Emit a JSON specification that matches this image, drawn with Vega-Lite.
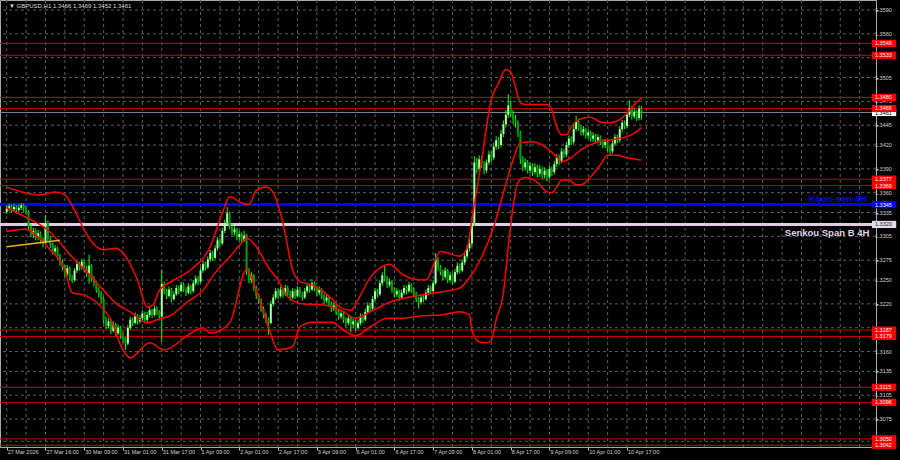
{
"$schema": "https://vega.github.io/schema/vega-lite/v6.json",
"width": 876, "height": 447,
"autosize": "none",
"padding": {"left": 0, "top": 0, "right": 24, "bottom": 13},
"background": "#000000",
"config": {"view": {"stroke": "#a8a8a8", "strokeWidth": 1}, "font": "Liberation Sans"},
"datasets": {
"candles": [
{"i":0,"o":1.3336,"h":1.3344,"l":1.3333,"c":1.3340},{"i":1,"o":1.3340,"h":1.3346,"l":1.3337,"c":1.3343},{"i":2,"o":1.3343,"h":1.3345,"l":1.3335,"c":1.3339},{"i":3,"o":1.3339,"h":1.3346,"l":1.3336,"c":1.3342},{"i":4,"o":1.3342,"h":1.3344,"l":1.3334,"c":1.3338},{"i":5,"o":1.3338,"h":1.3345,"l":1.3335,"c":1.3341},{"i":6,"o":1.3341,"h":1.3347,"l":1.3338,"c":1.3344},{"i":7,"o":1.3344,"h":1.3346,"l":1.3336,"c":1.3340},{"i":8,"o":1.3340,"h":1.3343,"l":1.3332,"c":1.3336},{"i":9,"o":1.3336,"h":1.3338,"l":1.3312,"c":1.3318},
{"i":10,"o":1.3318,"h":1.3321,"l":1.3304,"c":1.3308},{"i":11,"o":1.3308,"h":1.3316,"l":1.3303,"c":1.3312},{"i":12,"o":1.3312,"h":1.3315,"l":1.3300,"c":1.3304},{"i":13,"o":1.3304,"h":1.3313,"l":1.3300,"c":1.3309},{"i":14,"o":1.3309,"h":1.3311,"l":1.3296,"c":1.3300},{"i":15,"o":1.3300,"h":1.3304,"l":1.3291,"c":1.3296},{"i":16,"o":1.3296,"h":1.3332,"l":1.3294,"c":1.3322},{"i":17,"o":1.3322,"h":1.3325,"l":1.3298,"c":1.3302},{"i":18,"o":1.3302,"h":1.3306,"l":1.3290,"c":1.3294},{"i":19,"o":1.3294,"h":1.3297,"l":1.3282,"c":1.3286},
{"i":20,"o":1.3286,"h":1.3294,"l":1.3283,"c":1.3290},{"i":21,"o":1.3290,"h":1.3292,"l":1.3276,"c":1.3280},{"i":22,"o":1.3280,"h":1.3283,"l":1.3268,"c":1.3272},{"i":23,"o":1.3272,"h":1.3276,"l":1.3262,"c":1.3266},{"i":24,"o":1.3266,"h":1.3269,"l":1.3254,"c":1.3258},{"i":25,"o":1.3258,"h":1.3269,"l":1.3255,"c":1.3265},{"i":26,"o":1.3265,"h":1.3267,"l":1.3250,"c":1.3254},{"i":27,"o":1.3254,"h":1.3257,"l":1.3246,"c":1.3250},{"i":28,"o":1.3250,"h":1.3265,"l":1.3248,"c":1.3262},{"i":29,"o":1.3262,"h":1.3274,"l":1.3259,"c":1.3270},
{"i":30,"o":1.3270,"h":1.3273,"l":1.3262,"c":1.3266},{"i":31,"o":1.3266,"h":1.3277,"l":1.3263,"c":1.3273},{"i":32,"o":1.3273,"h":1.3275,"l":1.3260,"c":1.3264},{"i":33,"o":1.3264,"h":1.3268,"l":1.3254,"c":1.3258},{"i":34,"o":1.3258,"h":1.3282,"l":1.3245,"c":1.3268},{"i":35,"o":1.3268,"h":1.3270,"l":1.3248,"c":1.3252},{"i":36,"o":1.3252,"h":1.3255,"l":1.3242,"c":1.3246},{"i":37,"o":1.3246,"h":1.3249,"l":1.3234,"c":1.3238},{"i":38,"o":1.3238,"h":1.3241,"l":1.3228,"c":1.3232},{"i":39,"o":1.3232,"h":1.3236,"l":1.3221,"c":1.3226},
{"i":40,"o":1.3226,"h":1.3229,"l":1.3195,"c":1.3200},{"i":41,"o":1.3200,"h":1.3204,"l":1.3188,"c":1.3192},{"i":42,"o":1.3192,"h":1.3202,"l":1.3189,"c":1.3198},{"i":43,"o":1.3198,"h":1.3200,"l":1.3182,"c":1.3186},{"i":44,"o":1.3186,"h":1.3198,"l":1.3184,"c":1.3194},{"i":45,"o":1.3194,"h":1.3196,"l":1.3180,"c":1.3183},{"i":46,"o":1.3183,"h":1.3194,"l":1.3181,"c":1.3190},{"i":47,"o":1.3190,"h":1.3192,"l":1.3176,"c":1.3180},{"i":48,"o":1.3180,"h":1.3184,"l":1.3171,"c":1.3176},{"i":49,"o":1.3176,"h":1.3178,"l":1.3162,"c":1.3170},
{"i":50,"o":1.3170,"h":1.3193,"l":1.3168,"c":1.3190},{"i":51,"o":1.3190,"h":1.3204,"l":1.3187,"c":1.3200},{"i":52,"o":1.3200,"h":1.3203,"l":1.3192,"c":1.3196},{"i":53,"o":1.3196,"h":1.3209,"l":1.3194,"c":1.3205},{"i":54,"o":1.3205,"h":1.3207,"l":1.3194,"c":1.3198},{"i":55,"o":1.3198,"h":1.3206,"l":1.3195,"c":1.3202},{"i":56,"o":1.3202,"h":1.3212,"l":1.3199,"c":1.3208},{"i":57,"o":1.3208,"h":1.3210,"l":1.3196,"c":1.3200},{"i":58,"o":1.3200,"h":1.3210,"l":1.3197,"c":1.3206},{"i":59,"o":1.3206,"h":1.3216,"l":1.3203,"c":1.3212},
{"i":60,"o":1.3212,"h":1.3214,"l":1.3202,"c":1.3206},{"i":61,"o":1.3206,"h":1.3218,"l":1.3204,"c":1.3214},{"i":62,"o":1.3214,"h":1.3217,"l":1.3206,"c":1.3210},{"i":63,"o":1.3210,"h":1.3212,"l":1.3199,"c":1.3204},{"i":64,"o":1.3204,"h":1.3263,"l":1.3172,"c":1.3245},{"i":65,"o":1.3245,"h":1.3248,"l":1.3232,"c":1.3236},{"i":66,"o":1.3236,"h":1.3239,"l":1.3226,"c":1.3230},{"i":67,"o":1.3230,"h":1.3242,"l":1.3228,"c":1.3238},{"i":68,"o":1.3238,"h":1.3240,"l":1.3222,"c":1.3226},{"i":69,"o":1.3226,"h":1.3236,"l":1.3224,"c":1.3232},
{"i":70,"o":1.3232,"h":1.3244,"l":1.3230,"c":1.3240},{"i":71,"o":1.3240,"h":1.3243,"l":1.3232,"c":1.3236},{"i":72,"o":1.3236,"h":1.3248,"l":1.3234,"c":1.3244},{"i":73,"o":1.3244,"h":1.3247,"l":1.3235,"c":1.3238},{"i":74,"o":1.3238,"h":1.3241,"l":1.3230,"c":1.3234},{"i":75,"o":1.3234,"h":1.3246,"l":1.3232,"c":1.3242},{"i":76,"o":1.3242,"h":1.3244,"l":1.3232,"c":1.3236},{"i":77,"o":1.3236,"h":1.3250,"l":1.3234,"c":1.3246},{"i":78,"o":1.3246,"h":1.3256,"l":1.3243,"c":1.3252},{"i":79,"o":1.3252,"h":1.3255,"l":1.3244,"c":1.3248},
{"i":80,"o":1.3248,"h":1.3266,"l":1.3246,"c":1.3262},{"i":81,"o":1.3262,"h":1.3274,"l":1.3259,"c":1.3270},{"i":82,"o":1.3270,"h":1.3273,"l":1.3262,"c":1.3266},{"i":83,"o":1.3266,"h":1.3280,"l":1.3264,"c":1.3276},{"i":84,"o":1.3276,"h":1.3288,"l":1.3273,"c":1.3284},{"i":85,"o":1.3284,"h":1.3287,"l":1.3274,"c":1.3278},{"i":86,"o":1.3278,"h":1.3294,"l":1.3276,"c":1.3290},{"i":87,"o":1.3290,"h":1.3304,"l":1.3287,"c":1.3300},{"i":88,"o":1.3300,"h":1.3303,"l":1.3292,"c":1.3296},{"i":89,"o":1.3296,"h":1.3316,"l":1.3294,"c":1.3312},
{"i":90,"o":1.3312,"h":1.3326,"l":1.3309,"c":1.3322},{"i":91,"o":1.3322,"h":1.3342,"l":1.3320,"c":1.3334},{"i":92,"o":1.3334,"h":1.3336,"l":1.3314,"c":1.3318},{"i":93,"o":1.3318,"h":1.3321,"l":1.3306,"c":1.3310},{"i":94,"o":1.3310,"h":1.3318,"l":1.3306,"c":1.3314},{"i":95,"o":1.3314,"h":1.3316,"l":1.3300,"c":1.3304},{"i":96,"o":1.3304,"h":1.3312,"l":1.3300,"c":1.3308},{"i":97,"o":1.3308,"h":1.3310,"l":1.3297,"c":1.3300},{"i":98,"o":1.3300,"h":1.3312,"l":1.3298,"c":1.3306},{"i":99,"o":1.3306,"h":1.3308,"l":1.3256,"c":1.3262},
{"i":100,"o":1.3262,"h":1.3265,"l":1.3246,"c":1.3250},{"i":101,"o":1.3250,"h":1.3260,"l":1.3246,"c":1.3256},{"i":102,"o":1.3256,"h":1.3258,"l":1.3236,"c":1.3240},{"i":103,"o":1.3240,"h":1.3243,"l":1.3226,"c":1.3230},{"i":104,"o":1.3230,"h":1.3233,"l":1.3220,"c":1.3224},{"i":105,"o":1.3224,"h":1.3227,"l":1.3210,"c":1.3214},{"i":106,"o":1.3214,"h":1.3217,"l":1.3202,"c":1.3206},{"i":107,"o":1.3206,"h":1.3209,"l":1.3196,"c":1.3200},{"i":108,"o":1.3200,"h":1.3203,"l":1.3181,"c":1.3196},{"i":109,"o":1.3196,"h":1.3224,"l":1.3194,"c":1.3220},
{"i":110,"o":1.3220,"h":1.3232,"l":1.3217,"c":1.3228},{"i":111,"o":1.3228,"h":1.3240,"l":1.3225,"c":1.3236},{"i":112,"o":1.3236,"h":1.3239,"l":1.3226,"c":1.3230},{"i":113,"o":1.3230,"h":1.3242,"l":1.3228,"c":1.3238},{"i":114,"o":1.3238,"h":1.3241,"l":1.3228,"c":1.3232},{"i":115,"o":1.3232,"h":1.3244,"l":1.3230,"c":1.3240},{"i":116,"o":1.3240,"h":1.3243,"l":1.3230,"c":1.3234},{"i":117,"o":1.3234,"h":1.3237,"l":1.3224,"c":1.3228},{"i":118,"o":1.3228,"h":1.3240,"l":1.3226,"c":1.3236},{"i":119,"o":1.3236,"h":1.3239,"l":1.3226,"c":1.3230},
{"i":120,"o":1.3230,"h":1.3242,"l":1.3228,"c":1.3238},{"i":121,"o":1.3238,"h":1.3241,"l":1.3228,"c":1.3232},{"i":122,"o":1.3232,"h":1.3235,"l":1.3224,"c":1.3228},{"i":123,"o":1.3228,"h":1.3240,"l":1.3226,"c":1.3236},{"i":124,"o":1.3236,"h":1.3246,"l":1.3233,"c":1.3242},{"i":125,"o":1.3242,"h":1.3245,"l":1.3234,"c":1.3238},{"i":126,"o":1.3238,"h":1.3251,"l":1.3236,"c":1.3246},{"i":127,"o":1.3246,"h":1.3248,"l":1.3236,"c":1.3240},{"i":128,"o":1.3240,"h":1.3243,"l":1.3230,"c":1.3234},{"i":129,"o":1.3234,"h":1.3242,"l":1.3231,"c":1.3238},
{"i":130,"o":1.3238,"h":1.3240,"l":1.3226,"c":1.3230},{"i":131,"o":1.3230,"h":1.3233,"l":1.3220,"c":1.3224},{"i":132,"o":1.3224,"h":1.3232,"l":1.3221,"c":1.3228},{"i":133,"o":1.3228,"h":1.3230,"l":1.3216,"c":1.3220},{"i":134,"o":1.3220,"h":1.3223,"l":1.3210,"c":1.3214},{"i":135,"o":1.3214,"h":1.3222,"l":1.3211,"c":1.3218},{"i":136,"o":1.3218,"h":1.3220,"l":1.3206,"c":1.3210},{"i":137,"o":1.3210,"h":1.3213,"l":1.3200,"c":1.3204},{"i":138,"o":1.3204,"h":1.3212,"l":1.3201,"c":1.3208},{"i":139,"o":1.3208,"h":1.3210,"l":1.3196,"c":1.3200},
{"i":140,"o":1.3200,"h":1.3203,"l":1.3191,"c":1.3196},{"i":141,"o":1.3196,"h":1.3206,"l":1.3193,"c":1.3202},{"i":142,"o":1.3202,"h":1.3204,"l":1.3184,"c":1.3194},{"i":143,"o":1.3194,"h":1.3202,"l":1.3190,"c":1.3198},{"i":144,"o":1.3198,"h":1.3200,"l":1.3186,"c":1.3190},{"i":145,"o":1.3190,"h":1.3200,"l":1.3188,"c":1.3196},{"i":146,"o":1.3196,"h":1.3208,"l":1.3193,"c":1.3204},{"i":147,"o":1.3204,"h":1.3207,"l":1.3196,"c":1.3200},{"i":148,"o":1.3200,"h":1.3214,"l":1.3198,"c":1.3210},{"i":149,"o":1.3210,"h":1.3222,"l":1.3207,"c":1.3218},
{"i":150,"o":1.3218,"h":1.3221,"l":1.3210,"c":1.3214},{"i":151,"o":1.3214,"h":1.3230,"l":1.3212,"c":1.3226},{"i":152,"o":1.3226,"h":1.3240,"l":1.3223,"c":1.3236},{"i":153,"o":1.3236,"h":1.3239,"l":1.3228,"c":1.3232},{"i":154,"o":1.3232,"h":1.3250,"l":1.3230,"c":1.3246},{"i":155,"o":1.3246,"h":1.3260,"l":1.3243,"c":1.3256},{"i":156,"o":1.3256,"h":1.3268,"l":1.3248,"c":1.3252},{"i":157,"o":1.3252,"h":1.3255,"l":1.3240,"c":1.3244},{"i":158,"o":1.3244,"h":1.3252,"l":1.3241,"c":1.3248},{"i":159,"o":1.3248,"h":1.3250,"l":1.3234,"c":1.3238},
{"i":160,"o":1.3238,"h":1.3241,"l":1.3228,"c":1.3232},{"i":161,"o":1.3232,"h":1.3240,"l":1.3229,"c":1.3236},{"i":162,"o":1.3236,"h":1.3238,"l":1.3224,"c":1.3228},{"i":163,"o":1.3228,"h":1.3238,"l":1.3226,"c":1.3234},{"i":164,"o":1.3234,"h":1.3244,"l":1.3231,"c":1.3240},{"i":165,"o":1.3240,"h":1.3243,"l":1.3232,"c":1.3236},{"i":166,"o":1.3236,"h":1.3248,"l":1.3234,"c":1.3244},{"i":167,"o":1.3244,"h":1.3246,"l":1.3234,"c":1.3238},{"i":168,"o":1.3238,"h":1.3241,"l":1.3228,"c":1.3232},{"i":169,"o":1.3232,"h":1.3235,"l":1.3222,"c":1.3226},
{"i":170,"o":1.3226,"h":1.3229,"l":1.3214,"c":1.3222},{"i":171,"o":1.3222,"h":1.3232,"l":1.3219,"c":1.3228},{"i":172,"o":1.3228,"h":1.3231,"l":1.3222,"c":1.3226},{"i":173,"o":1.3226,"h":1.3238,"l":1.3224,"c":1.3234},{"i":174,"o":1.3234,"h":1.3244,"l":1.3231,"c":1.3240},{"i":175,"o":1.3240,"h":1.3243,"l":1.3232,"c":1.3236},{"i":176,"o":1.3236,"h":1.3250,"l":1.3234,"c":1.3246},{"i":177,"o":1.3246,"h":1.3284,"l":1.3244,"c":1.3276},{"i":178,"o":1.3276,"h":1.3279,"l":1.3262,"c":1.3266},{"i":179,"o":1.3266,"h":1.3269,"l":1.3256,"c":1.3260},
{"i":180,"o":1.3260,"h":1.3263,"l":1.3250,"c":1.3254},{"i":181,"o":1.3254,"h":1.3266,"l":1.3251,"c":1.3262},{"i":182,"o":1.3262,"h":1.3264,"l":1.3246,"c":1.3250},{"i":183,"o":1.3250,"h":1.3260,"l":1.3247,"c":1.3256},{"i":184,"o":1.3256,"h":1.3258,"l":1.3244,"c":1.3248},{"i":185,"o":1.3248,"h":1.3264,"l":1.3246,"c":1.3260},{"i":186,"o":1.3260,"h":1.3272,"l":1.3257,"c":1.3268},{"i":187,"o":1.3268,"h":1.3271,"l":1.3258,"c":1.3262},{"i":188,"o":1.3262,"h":1.3276,"l":1.3260,"c":1.3272},{"i":189,"o":1.3272,"h":1.3284,"l":1.3269,"c":1.3280},
{"i":190,"o":1.3280,"h":1.3294,"l":1.3277,"c":1.3290},{"i":191,"o":1.3290,"h":1.3302,"l":1.3286,"c":1.3296},{"i":192,"o":1.3296,"h":1.3326,"l":1.3292,"c":1.3322},{"i":193,"o":1.3322,"h":1.3406,"l":1.3318,"c":1.3398},{"i":194,"o":1.3398,"h":1.3404,"l":1.3384,"c":1.3390},{"i":195,"o":1.3390,"h":1.3407,"l":1.3386,"c":1.3402},{"i":196,"o":1.3402,"h":1.3406,"l":1.3391,"c":1.3396},{"i":197,"o":1.3396,"h":1.3400,"l":1.3383,"c":1.3388},{"i":198,"o":1.3388,"h":1.3402,"l":1.3385,"c":1.3398},{"i":199,"o":1.3398,"h":1.3413,"l":1.3395,"c":1.3408},
{"i":200,"o":1.3408,"h":1.3412,"l":1.3399,"c":1.3404},{"i":201,"o":1.3404,"h":1.3423,"l":1.3401,"c":1.3418},{"i":202,"o":1.3418,"h":1.3431,"l":1.3414,"c":1.3426},{"i":203,"o":1.3426,"h":1.3430,"l":1.3415,"c":1.3420},{"i":204,"o":1.3420,"h":1.3439,"l":1.3417,"c":1.3434},{"i":205,"o":1.3434,"h":1.3451,"l":1.3430,"c":1.3446},{"i":206,"o":1.3446,"h":1.3464,"l":1.3442,"c":1.3458},{"i":207,"o":1.3458,"h":1.3484,"l":1.3454,"c":1.3470},{"i":208,"o":1.3470,"h":1.3476,"l":1.3455,"c":1.3460},{"i":209,"o":1.3460,"h":1.3464,"l":1.3446,"c":1.3452},
{"i":210,"o":1.3452,"h":1.3458,"l":1.3442,"c":1.3448},{"i":211,"o":1.3448,"h":1.3451,"l":1.3430,"c":1.3436},{"i":212,"o":1.3436,"h":1.3438,"l":1.3396,"c":1.3402},{"i":213,"o":1.3402,"h":1.3406,"l":1.3387,"c":1.3392},{"i":214,"o":1.3392,"h":1.3403,"l":1.3388,"c":1.3398},{"i":215,"o":1.3398,"h":1.3401,"l":1.3384,"c":1.3388},{"i":216,"o":1.3388,"h":1.3398,"l":1.3384,"c":1.3394},{"i":217,"o":1.3394,"h":1.3397,"l":1.3381,"c":1.3386},{"i":218,"o":1.3386,"h":1.3397,"l":1.3383,"c":1.3392},{"i":219,"o":1.3392,"h":1.3395,"l":1.3379,"c":1.3384},
{"i":220,"o":1.3384,"h":1.3395,"l":1.3380,"c":1.3390},{"i":221,"o":1.3390,"h":1.3393,"l":1.3377,"c":1.3382},{"i":222,"o":1.3382,"h":1.3392,"l":1.3378,"c":1.3388},{"i":223,"o":1.3388,"h":1.3390,"l":1.3374,"c":1.3380},{"i":224,"o":1.3380,"h":1.3394,"l":1.3377,"c":1.3390},{"i":225,"o":1.3390,"h":1.3393,"l":1.3381,"c":1.3386},{"i":226,"o":1.3386,"h":1.3400,"l":1.3383,"c":1.3396},{"i":227,"o":1.3396,"h":1.3409,"l":1.3392,"c":1.3404},{"i":228,"o":1.3404,"h":1.3408,"l":1.3395,"c":1.3400},{"i":229,"o":1.3400,"h":1.3416,"l":1.3397,"c":1.3412},
{"i":230,"o":1.3412,"h":1.3415,"l":1.3404,"c":1.3408},{"i":231,"o":1.3408,"h":1.3424,"l":1.3405,"c":1.3420},{"i":232,"o":1.3420,"h":1.3432,"l":1.3416,"c":1.3428},{"i":233,"o":1.3428,"h":1.3431,"l":1.3420,"c":1.3424},{"i":234,"o":1.3424,"h":1.3445,"l":1.3421,"c":1.3440},{"i":235,"o":1.3440,"h":1.3457,"l":1.3437,"c":1.3450},{"i":236,"o":1.3450,"h":1.3453,"l":1.3438,"c":1.3442},{"i":237,"o":1.3442,"h":1.3445,"l":1.3432,"c":1.3436},{"i":238,"o":1.3436,"h":1.3444,"l":1.3432,"c":1.3440},{"i":239,"o":1.3440,"h":1.3442,"l":1.3428,"c":1.3432},
{"i":240,"o":1.3432,"h":1.3440,"l":1.3428,"c":1.3436},{"i":241,"o":1.3436,"h":1.3438,"l":1.3424,"c":1.3428},{"i":242,"o":1.3428,"h":1.3436,"l":1.3424,"c":1.3432},{"i":243,"o":1.3432,"h":1.3434,"l":1.3422,"c":1.3426},{"i":244,"o":1.3426,"h":1.3434,"l":1.3422,"c":1.3430},{"i":245,"o":1.3430,"h":1.3432,"l":1.3420,"c":1.3424},{"i":246,"o":1.3424,"h":1.3427,"l":1.3416,"c":1.3420},{"i":247,"o":1.3420,"h":1.3428,"l":1.3416,"c":1.3424},{"i":248,"o":1.3424,"h":1.3426,"l":1.3412,"c":1.3416},{"i":249,"o":1.3416,"h":1.3419,"l":1.3406,"c":1.3412},
{"i":250,"o":1.3412,"h":1.3426,"l":1.3409,"c":1.3422},{"i":251,"o":1.3422,"h":1.3434,"l":1.3419,"c":1.3430},{"i":252,"o":1.3430,"h":1.3433,"l":1.3422,"c":1.3426},{"i":253,"o":1.3426,"h":1.3444,"l":1.3423,"c":1.3440},{"i":254,"o":1.3440,"h":1.3452,"l":1.3436,"c":1.3448},{"i":255,"o":1.3448,"h":1.3451,"l":1.3440,"c":1.3444},{"i":256,"o":1.3444,"h":1.3462,"l":1.3441,"c":1.3458},{"i":257,"o":1.3458,"h":1.3476,"l":1.3455,"c":1.3466},{"i":258,"o":1.3466,"h":1.3469,"l":1.3452,"c":1.3456},{"i":259,"o":1.3456,"h":1.3467,"l":1.3453,"c":1.3462},
{"i":260,"o":1.3462,"h":1.3464,"l":1.3450,"c":1.3454},{"i":261,"o":1.3454,"h":1.3470,"l":1.3451,"c":1.3466},{"i":262,"o":1.3466,"h":1.3469,"l":1.3452,"c":1.3461}
],
"bands": [
{"b":"upper","i":0,"p":1.3367},{"b":"upper","i":7.5,"p":1.3360},{"b":"upper","i":13,"p":1.3357},{"b":"upper","i":20,"p":1.3361},{"b":"upper","i":24,"p":1.3357},{"b":"upper","i":28,"p":1.3338},{"b":"upper","i":32,"p":1.3313},{"b":"upper","i":37,"p":1.3292},{"b":"upper","i":40,"p":1.3288},{"b":"upper","i":45,"p":1.3290},{"b":"upper","i":48,"p":1.3284},{"b":"upper","i":54,"p":1.3250},{"b":"upper","i":58,"p":1.3216},{"b":"upper","i":60.5,"p":1.3219},{"b":"upper","i":63,"p":1.3237},{"b":"upper","i":69,"p":1.3250},{"b":"upper","i":76,"p":1.3263},{"b":"upper","i":84,"p":1.3292},{"b":"upper","i":89,"p":1.3334},{"b":"upper","i":92,"p":1.3355},{"b":"upper","i":97,"p":1.3347},{"b":"upper","i":100,"p":1.3345},{"b":"upper","i":103,"p":1.3363},{"b":"upper","i":107,"p":1.3367},{"b":"upper","i":110,"p":1.3360},{"b":"upper","i":114,"p":1.3322},{"b":"upper","i":118,"p":1.3263},{"b":"upper","i":121,"p":1.3248},{"b":"upper","i":126,"p":1.3244},{"b":"upper","i":130,"p":1.3237},{"b":"upper","i":134,"p":1.3227},{"b":"upper","i":138,"p":1.3215},{"b":"upper","i":142,"p":1.3212},{"b":"upper","i":146,"p":1.3231},{"b":"upper","i":150,"p":1.3253},{"b":"upper","i":154,"p":1.3265},{"b":"upper","i":158,"p":1.3270},{"b":"upper","i":163,"p":1.3258},{"b":"upper","i":167,"p":1.3252},{"b":"upper","i":173,"p":1.3250},{"b":"upper","i":179,"p":1.3286},{"b":"upper","i":187,"p":1.3280},{"b":"upper","i":190,"p":1.3290},{"b":"upper","i":192,"p":1.3326},{"b":"upper","i":196,"p":1.3401},{"b":"upper","i":200,"p":1.3477},{"b":"upper","i":203,"p":1.3498},{"b":"upper","i":206,"p":1.3515},{"b":"upper","i":208,"p":1.3512},{"b":"upper","i":210,"p":1.3493},{"b":"upper","i":212,"p":1.3473},{"b":"upper","i":214,"p":1.3471},{"b":"upper","i":223,"p":1.3471},{"b":"upper","i":225,"p":1.3464},{"b":"upper","i":227,"p":1.3443},{"b":"upper","i":229,"p":1.3433},{"b":"upper","i":231,"p":1.3433},{"b":"upper","i":233,"p":1.3443},{"b":"upper","i":236,"p":1.3452},{"b":"upper","i":241,"p":1.3455},{"b":"upper","i":245,"p":1.3449},{"b":"upper","i":249,"p":1.3448},{"b":"upper","i":253,"p":1.3452},{"b":"upper","i":256,"p":1.3460},{"b":"upper","i":260,"p":1.3474},{"b":"upper","i":262,"p":1.3479},
{"b":"middle","i":0,"p":1.3341},{"b":"middle","i":8,"p":1.3329},{"b":"middle","i":17,"p":1.3313},{"b":"middle","i":27,"p":1.3279},{"b":"middle","i":35,"p":1.3254},{"b":"middle","i":40,"p":1.3237},{"b":"middle","i":45,"p":1.3221},{"b":"middle","i":51,"p":1.3210},{"b":"middle","i":58,"p":1.3196},{"b":"middle","i":62,"p":1.3200},{"b":"middle","i":68,"p":1.3206},{"b":"middle","i":74,"p":1.3221},{"b":"middle","i":81,"p":1.3237},{"b":"middle","i":86,"p":1.3259},{"b":"middle","i":92,"p":1.3279},{"b":"middle","i":97,"p":1.3297},{"b":"middle","i":99,"p":1.3303},{"b":"middle","i":103,"p":1.3292},{"b":"middle","i":108,"p":1.3266},{"b":"middle","i":112,"p":1.3250},{"b":"middle","i":116,"p":1.3229},{"b":"middle","i":122,"p":1.3220},{"b":"middle","i":130,"p":1.3219},{"b":"middle","i":138,"p":1.3212},{"b":"middle","i":144,"p":1.3202},{"b":"middle","i":150,"p":1.3210},{"b":"middle","i":158,"p":1.3222},{"b":"middle","i":167,"p":1.3229},{"b":"middle","i":175,"p":1.3233},{"b":"middle","i":179,"p":1.3235},{"b":"middle","i":187,"p":1.3240},{"b":"middle","i":191,"p":1.3253},{"b":"middle","i":196,"p":1.3279},{"b":"middle","i":201,"p":1.3317},{"b":"middle","i":205,"p":1.3360},{"b":"middle","i":209,"p":1.3401},{"b":"middle","i":212,"p":1.3423},{"b":"middle","i":217,"p":1.3424},{"b":"middle","i":223,"p":1.3416},{"b":"middle","i":227,"p":1.3405},{"b":"middle","i":229,"p":1.3399},{"b":"middle","i":233,"p":1.3404},{"b":"middle","i":237,"p":1.3414},{"b":"middle","i":243,"p":1.3423},{"b":"middle","i":248,"p":1.3426},{"b":"middle","i":254,"p":1.3429},{"b":"middle","i":258,"p":1.3433},{"b":"middle","i":262,"p":1.3442},
{"b":"lower","i":0,"p":1.3311},{"b":"lower","i":8,"p":1.3314},{"b":"lower","i":13,"p":1.3304},{"b":"lower","i":18,"p":1.3288},{"b":"lower","i":24,"p":1.3263},{"b":"lower","i":27,"p":1.3234},{"b":"lower","i":32,"p":1.3231},{"b":"lower","i":37,"p":1.3222},{"b":"lower","i":43,"p":1.3200},{"b":"lower","i":48,"p":1.3162},{"b":"lower","i":51,"p":1.3152},{"b":"lower","i":59,"p":1.3171},{"b":"lower","i":65,"p":1.3162},{"b":"lower","i":76,"p":1.3183},{"b":"lower","i":81,"p":1.3190},{"b":"lower","i":84,"p":1.3183},{"b":"lower","i":92,"p":1.3196},{"b":"lower","i":99,"p":1.3263},{"b":"lower","i":103,"p":1.3237},{"b":"lower","i":108,"p":1.3191},{"b":"lower","i":112,"p":1.3162},{"b":"lower","i":118,"p":1.3166},{"b":"lower","i":121,"p":1.3191},{"b":"lower","i":126,"p":1.3197},{"b":"lower","i":134,"p":1.3197},{"b":"lower","i":140,"p":1.3185},{"b":"lower","i":144,"p":1.3180},{"b":"lower","i":150,"p":1.3191},{"b":"lower","i":157,"p":1.3202},{"b":"lower","i":163,"p":1.3202},{"b":"lower","i":171,"p":1.3205},{"b":"lower","i":179,"p":1.3206},{"b":"lower","i":187,"p":1.3210},{"b":"lower","i":191,"p":1.3206},{"b":"lower","i":192,"p":1.3187},{"b":"lower","i":195,"p":1.3172},{"b":"lower","i":198,"p":1.3171},{"b":"lower","i":200,"p":1.3174},{"b":"lower","i":202,"p":1.3200},{"b":"lower","i":205,"p":1.3234},{"b":"lower","i":207,"p":1.3292},{"b":"lower","i":209,"p":1.3342},{"b":"lower","i":211,"p":1.3373},{"b":"lower","i":214,"p":1.3379},{"b":"lower","i":219,"p":1.3373},{"b":"lower","i":223,"p":1.3361},{"b":"lower","i":225,"p":1.3360},{"b":"lower","i":227,"p":1.3367},{"b":"lower","i":229,"p":1.3376},{"b":"lower","i":232,"p":1.3376},{"b":"lower","i":235,"p":1.3370},{"b":"lower","i":237,"p":1.3370},{"b":"lower","i":241,"p":1.3380},{"b":"lower","i":245,"p":1.3395},{"b":"lower","i":248,"p":1.3407},{"b":"lower","i":252,"p":1.3407},{"b":"lower","i":256,"p":1.3404},{"b":"lower","i":262,"p":1.3401}
],
"yellow": [{"i":0,"p":1.3292},{"i":22,"p":1.3300}],
"redLevels": [{"p":1.3548},{"p":1.3533},{"p":1.3480},{"p":1.3466},{"p":1.3377},{"p":1.3369},{"p":1.3187},{"p":1.3179},{"p":1.3115},{"p":1.3096},{"p":1.3050},{"p":1.3042}],
"kijun": [{"p":1.3345,"name":"Kijun-sen 4H"}],
"senkou": [{"p":1.3320,"name":"Senkou Span B 4H"}],
"bid": [{"p":1.3461}],
"title": [{"t":"▼ GBPUSD,H1  1.3466 1.3469 1.3452 1.3461"}],
"ygrid": [{"p":1.3590,"lab":"1.3590"},{"p":1.3560,"lab":"1.3560"},{"p":1.3530,"lab":""},{"p":1.3505,"lab":"1.3505"},{"p":1.3475,"lab":"1.3475"},{"p":1.3445,"lab":"1.3445"},{"p":1.3420,"lab":"1.3420"},{"p":1.3390,"lab":"1.3390"},{"p":1.3360,"lab":"1.3360"},{"p":1.3335,"lab":"1.3335"},{"p":1.3305,"lab":"1.3305"},{"p":1.3275,"lab":"1.3275"},{"p":1.3250,"lab":"1.3250"},{"p":1.3220,"lab":"1.3220"},{"p":1.3190,"lab":""},{"p":1.3160,"lab":"1.3160"},{"p":1.3135,"lab":"1.3135"},{"p":1.3105,"lab":"1.3105"},{"p":1.3075,"lab":"1.3075"},{"p":1.3047,"lab":""}],
"xgrid": [{"i":0},{"i":8},{"i":16},{"i":24},{"i":32},{"i":40},{"i":48},{"i":56},{"i":64},{"i":72},{"i":80},{"i":88},{"i":96},{"i":104},{"i":112},{"i":120},{"i":128},{"i":136},{"i":144},{"i":152},{"i":160},{"i":168},{"i":176},{"i":184},{"i":192},{"i":200},{"i":208},{"i":216},{"i":224},{"i":232},{"i":240},{"i":248},{"i":256},{"i":264},{"i":272},{"i":280},{"i":288},{"i":296},{"i":304},{"i":312},{"i":320},{"i":328},{"i":336},{"i":344},{"i":352}],
"xlabels": [{"i":0,"lab":"27 Mar 2026"},{"i":16,"lab":"27 Mar 16:00"},{"i":32,"lab":"30 Mar 09:00"},{"i":48,"lab":"31 Mar 01:00"},{"i":64,"lab":"31 Mar 17:00"},{"i":80,"lab":"1 Apr 09:00"},{"i":96,"lab":"2 Apr 01:00"},{"i":112,"lab":"2 Apr 17:00"},{"i":128,"lab":"3 Apr 09:00"},{"i":144,"lab":"6 Apr 01:00"},{"i":160,"lab":"6 Apr 17:00"},{"i":176,"lab":"7 Apr 09:00"},{"i":192,"lab":"8 Apr 01:00"},{"i":208,"lab":"8 Apr 17:00"},{"i":224,"lab":"9 Apr 09:00"},{"i":240,"lab":"10 Apr 01:00"},{"i":256,"lab":"10 Apr 17:00"}]
},
"layer": [
{
"data": {"name": "xgrid"},
"mark": {"type": "rule", "color": "#5c5c5c", "strokeWidth": 1, "strokeDash": [3, 3]},
"encoding": {
"x": {"field": "i", "type": "quantitative", "scale": {"domain": [-0.7, 356.7], "nice": false, "zero": false},
"axis": {"title": null, "values": [0,16,32,48,64,80,96,112,128,144,160,176,192,208,224,240,256], "labels": false, "grid": false, "ticks": true, "tickSize": 3, "tickColor": "#c0c0c0", "domainColor": "#a8a8a8"}}
}
},
{
"data": {"name": "ygrid"},
"mark": {"type": "rule", "color": "#5c5c5c", "strokeWidth": 1, "strokeDash": [3, 3]},
"encoding": {
"y": {"field": "p", "type": "quantitative", "scale": {"domain": [1.30398, 1.36026], "nice": false, "zero": false},
"axis": {"title": null, "orient": "right", "values": [1.3590,1.3560,1.3505,1.3475,1.3445,1.3420,1.3390,1.3360,1.3335,1.3305,1.3275,1.3250,1.3220,1.3160,1.3135,1.3105,1.3075], "labels": false, "grid": false, "ticks": true, "tickSize": 2, "tickColor": "#c0c0c0", "domainColor": "#a8a8a8"}}
}
},
{
"data": {"name": "redLevels"},
"mark": {"type": "rule", "color": "#c80000", "strokeWidth": 1},
"encoding": {"y": {"field": "p", "type": "quantitative", "scale": {"domain": [1.30398, 1.36026], "nice": false, "zero": false}}}
},
{
"data": {"name": "kijun"},
"mark": {"type": "rule", "color": "#0000ff", "strokeWidth": 3},
"encoding": {"y": {"field": "p", "type": "quantitative", "scale": {"domain": [1.30398, 1.36026], "nice": false, "zero": false}}}
},
{
"data": {"name": "senkou"},
"mark": {"type": "rule", "color": "#e0cce0", "strokeWidth": 3},
"encoding": {"y": {"field": "p", "type": "quantitative", "scale": {"domain": [1.30398, 1.36026], "nice": false, "zero": false}}}
},
{
"data": {"name": "bid"},
"mark": {"type": "rule", "color": "#7a8a9a", "strokeWidth": 1},
"encoding": {"y": {"field": "p", "type": "quantitative", "scale": {"domain": [1.30398, 1.36026], "nice": false, "zero": false}}}
},
{
"data": {"name": "candles"},
"mark": {"type": "rule", "color": "#00ff00", "strokeWidth": 1},
"encoding": {
"x": {"field": "i", "type": "quantitative", "scale": {"domain": [-0.7, 356.7], "nice": false, "zero": false}},
"y": {"field": "l", "type": "quantitative", "scale": {"domain": [1.30398, 1.36026], "nice": false, "zero": false}},
"y2": {"field": "h"}
}
},
{
"data": {"name": "candles"},
"mark": {"type": "bar", "width": 2},
"encoding": {
"x": {"field": "i", "type": "quantitative", "scale": {"domain": [-0.7, 356.7], "nice": false, "zero": false}},
"y": {"field": "o", "type": "quantitative", "scale": {"domain": [1.30398, 1.36026], "nice": false, "zero": false}},
"y2": {"field": "c"},
"color": {"condition": {"test": "datum.c >= datum.o", "value": "#a6ffa6"}, "value": "#00a000"}
}
},
{
"data": {"name": "bands"},
"mark": {"type": "line", "color": "#ff0000", "strokeWidth": 1.5, "interpolate": "monotone"},
"encoding": {
"x": {"field": "i", "type": "quantitative", "scale": {"domain": [-0.7, 356.7], "nice": false, "zero": false}},
"y": {"field": "p", "type": "quantitative", "scale": {"domain": [1.30398, 1.36026], "nice": false, "zero": false}},
"detail": {"field": "b"}
}
},
{
"data": {"name": "yellow"},
"mark": {"type": "line", "color": "#e8b800", "strokeWidth": 1.5},
"encoding": {
"x": {"field": "i", "type": "quantitative", "scale": {"domain": [-0.7, 356.7], "nice": false, "zero": false}},
"y": {"field": "p", "type": "quantitative", "scale": {"domain": [1.30398, 1.36026], "nice": false, "zero": false}}
}
},
{
"data": {"name": "kijun"},
"mark": {"type": "text", "color": "#0000ff", "font": "Liberation Sans", "fontSize": 9.5, "fontWeight": "bold", "align": "right", "baseline": "alphabetic", "dy": -3},
"encoding": {
"x": {"datum": 355.0, "type": "quantitative", "scale": {"domain": [-0.7, 356.7], "nice": false, "zero": false}},
"y": {"field": "p", "type": "quantitative", "scale": {"domain": [1.30398, 1.36026], "nice": false, "zero": false}},
"text": {"field": "name"}
}
},
{
"data": {"name": "senkou"},
"mark": {"type": "text", "color": "#e0d4e8", "font": "Liberation Sans", "fontSize": 9.5, "fontWeight": "bold", "align": "right", "baseline": "top", "dy": 4},
"encoding": {
"x": {"datum": 356.0, "type": "quantitative", "scale": {"domain": [-0.7, 356.7], "nice": false, "zero": false}},
"y": {"field": "p", "type": "quantitative", "scale": {"domain": [1.30398, 1.36026], "nice": false, "zero": false}},
"text": {"field": "name"}
}
},
{
"data": {"name": "title"},
"mark": {"type": "text", "color": "#d8d8d8", "fontSize": 6, "align": "left", "baseline": "top", "dx": 4, "dy": 3},
"encoding": {
"x": {"datum": -0.7, "type": "quantitative", "scale": {"domain": [-0.7, 356.7], "nice": false, "zero": false}},
"y": {"datum": 1.36026, "type": "quantitative", "scale": {"domain": [1.30398, 1.36026], "nice": false, "zero": false}},
"text": {"field": "t"}
}
},
{
"data": {"name": "ygrid"},
"mark": {"type": "text", "color": "#d0d0d0", "fontSize": 5.5, "align": "left", "baseline": "middle", "dx": 4},
"encoding": {
"x": {"datum": 356.7, "type": "quantitative", "scale": {"domain": [-0.7, 356.7], "nice": false, "zero": false}},
"y": {"field": "p", "type": "quantitative", "scale": {"domain": [1.30398, 1.36026], "nice": false, "zero": false}},
"text": {"field": "lab"}
}
},
{
"data": {"name": "xlabels"},
"mark": {"type": "text", "color": "#d0d0d0", "fontSize": 5.5, "align": "left", "baseline": "top", "dx": 1, "dy": 3},
"encoding": {
"x": {"field": "i", "type": "quantitative", "scale": {"domain": [-0.7, 356.7], "nice": false, "zero": false}},
"y": {"datum": 1.30398, "type": "quantitative", "scale": {"domain": [1.30398, 1.36026], "nice": false, "zero": false}},
"text": {"field": "lab"}
}
},
{
"data": {"name": "bid"},
"mark": {"type": "point", "shape": "M0.08,-0.3L2.1,-0.3L2.1,0.3L0.08,0.3Z", "size": 576, "filled": true, "opacity": 1, "color": "#ffffff", "strokeWidth": 0},
"encoding": {
"x": {"datum": 356.7, "type": "quantitative", "scale": {"domain": [-0.7, 356.7], "nice": false, "zero": false}},
"y": {"field": "p", "type": "quantitative", "scale": {"domain": [1.30398, 1.36026], "nice": false, "zero": false}}
}
},
{
"data": {"name": "bid"},
"mark": {"type": "text", "color": "#000000", "fontSize": 5.5, "align": "left", "baseline": "middle", "dx": 4, "dy": 1},
"encoding": {
"x": {"datum": 356.7, "type": "quantitative", "scale": {"domain": [-0.7, 356.7], "nice": false, "zero": false}},
"y": {"field": "p", "type": "quantitative", "scale": {"domain": [1.30398, 1.36026], "nice": false, "zero": false}},
"text": {"field": "p", "type": "quantitative", "format": ".4f"}
}
},
{
"data": {"name": "redLevels"},
"mark": {"type": "point", "shape": "M0.08,-0.3L2.1,-0.3L2.1,0.3L0.08,0.3Z", "size": 576, "filled": true, "opacity": 1, "color": "#ff0000", "strokeWidth": 0},
"encoding": {
"x": {"datum": 356.7, "type": "quantitative", "scale": {"domain": [-0.7, 356.7], "nice": false, "zero": false}},
"y": {"field": "p", "type": "quantitative", "scale": {"domain": [1.30398, 1.36026], "nice": false, "zero": false}}
}
},
{
"data": {"name": "kijun"},
"mark": {"type": "point", "shape": "M0.08,-0.3L2.1,-0.3L2.1,0.3L0.08,0.3Z", "size": 576, "filled": true, "opacity": 1, "color": "#0000ff", "strokeWidth": 0},
"encoding": {
"x": {"datum": 356.7, "type": "quantitative", "scale": {"domain": [-0.7, 356.7], "nice": false, "zero": false}},
"y": {"field": "p", "type": "quantitative", "scale": {"domain": [1.30398, 1.36026], "nice": false, "zero": false}}
}
},
{
"data": {"name": "senkou"},
"mark": {"type": "point", "shape": "M0.08,-0.3L2.1,-0.3L2.1,0.3L0.08,0.3Z", "size": 576, "filled": true, "opacity": 1, "color": "#e6d8e6", "strokeWidth": 0},
"encoding": {
"x": {"datum": 356.7, "type": "quantitative", "scale": {"domain": [-0.7, 356.7], "nice": false, "zero": false}},
"y": {"field": "p", "type": "quantitative", "scale": {"domain": [1.30398, 1.36026], "nice": false, "zero": false}}
}
},
{
"data": {"name": "redLevels"},
"mark": {"type": "text", "color": "#ffffff", "fontSize": 5.5, "align": "left", "baseline": "middle", "dx": 4},
"encoding": {
"x": {"datum": 356.7, "type": "quantitative", "scale": {"domain": [-0.7, 356.7], "nice": false, "zero": false}},
"y": {"field": "p", "type": "quantitative", "scale": {"domain": [1.30398, 1.36026], "nice": false, "zero": false}},
"text": {"field": "p", "type": "quantitative", "format": ".4f"}
}
},
{
"data": {"name": "kijun"},
"mark": {"type": "text", "color": "#ffffff", "fontSize": 5.5, "align": "left", "baseline": "middle", "dx": 4},
"encoding": {
"x": {"datum": 356.7, "type": "quantitative", "scale": {"domain": [-0.7, 356.7], "nice": false, "zero": false}},
"y": {"field": "p", "type": "quantitative", "scale": {"domain": [1.30398, 1.36026], "nice": false, "zero": false}},
"text": {"field": "p", "type": "quantitative", "format": ".4f"}
}
},
{
"data": {"name": "senkou"},
"mark": {"type": "text", "color": "#202020", "fontSize": 5.5, "align": "left", "baseline": "middle", "dx": 4},
"encoding": {
"x": {"datum": 356.7, "type": "quantitative", "scale": {"domain": [-0.7, 356.7], "nice": false, "zero": false}},
"y": {"field": "p", "type": "quantitative", "scale": {"domain": [1.30398, 1.36026], "nice": false, "zero": false}},
"text": {"field": "p", "type": "quantitative", "format": ".4f"}
}
}
]
}
